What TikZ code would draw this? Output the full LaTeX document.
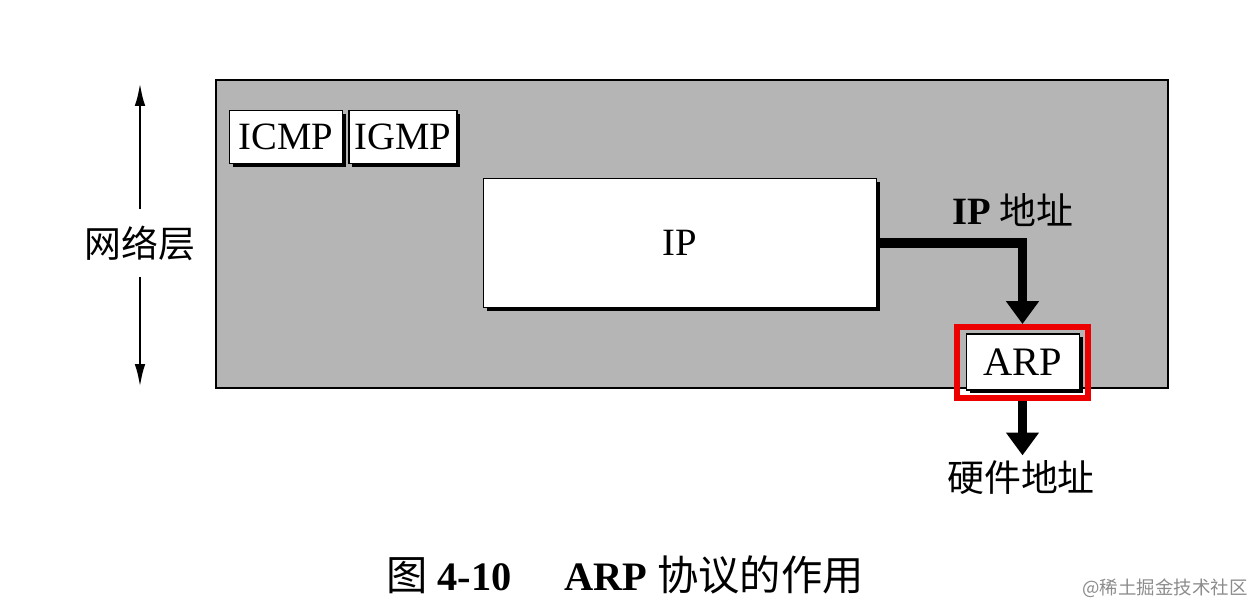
\documentclass[tikz,border=0pt]{standalone}
\usepackage{fontspec}
\setmainfont{Liberation Serif}
\newfontfamily\cjk{Noto Sans CJK SC}
\usetikzlibrary{arrows.meta,shadows}
\definecolor{panelgray}{gray}{0.71}
\definecolor{markred}{RGB}{236,0,0}
\tikzset{
    protobox/.style={draw=black, line width=1pt, fill=white, inner sep=0pt,
        font=\fontsize{22}{24}\selectfont,
        drop shadow={shadow xshift=1.8pt, shadow yshift=-1.8pt, fill=black, opacity=1}},
    fatarrow/.style={line width=5.6pt, -{Triangle[width=18pt,length=13pt]}},
    thinarrow/.style={line width=1.5pt, -{Latex[width=6pt,length=13pt]}},
    cnlabel/.style={font=\cjk\fontsize{21}{23}\selectfont, inner sep=0pt},
}
\begin{document}
\begin{tikzpicture}[x=0.02cm, y=-0.02cm]
    \useasboundingbox (0,0) rectangle (1252,610);
    % network layer panel
    \fill[panelgray] (216,80) rectangle (1168,388);
    \draw[line width=1.2pt] (216,80) rectangle (1168,388);
    % protocol boxes
    \node[protobox, minimum width=2.26cm, minimum height=1.06cm] (icmp) at (286,137) {ICMP};
    \node[protobox, minimum width=2.16cm, minimum height=1.06cm] (igmp) at (403,137) {IGMP};
    \node[protobox, minimum width=7.86cm, minimum height=2.58cm] (ip) at (680,243) {IP};
    \node[protobox, minimum width=2.26cm, minimum height=1.12cm,
        font=\fontsize{23}{25}\selectfont] (arp) at (1023,362) {ARP};
    \node[draw=markred, line width=3.4pt, minimum width=2.62cm, minimum height=1.42cm,
        inner sep=0pt] (armark) at (1022.5,362.5) {};
    % address labels
    \node[cnlabel] (ipaddr) at (1013,210) {{\rmfamily\bfseries\fontsize{22}{24}\selectfont IP} 地址};
    \node[cnlabel] (hwaddr) at (1021,478) {硬件地址};
    \draw[fatarrow] (ip.east) -| (armark.north);
    \draw[fatarrow, shorten >=3pt] (armark.south) -- (armark.south |- hwaddr.north);
    % layer marker
    \node[cnlabel] (nl) at (140,243) {网络层};
    \coordinate (nltop) at (137,83);
    \coordinate (nlbot) at (137,387);
    \draw[thinarrow, shorten <=9pt] (nl.north) -- (nl.north |- nltop);
    \draw[thinarrow, shorten <=9pt] (nl.south) -- (nl.south |- nlbot);
    % caption
    \node[inner sep=0pt, font=\fontsize{23}{25}\selectfont] (cap) at (625,575)
        {{\cjk\fontsize{23.5}{25}\selectfont 图}\ \textbf{4-10}\hspace{1.3em}\textbf{ARP}\ {\cjk\fontsize{23.5}{25}\selectfont 协议的作用}};
    \node[cnlabel, font=\cjk\fontsize{10.5}{12}\selectfont, text=black!45] (mark) at (1165,588) {@稀土掘金技术社区};
\end{tikzpicture}
\end{document}
